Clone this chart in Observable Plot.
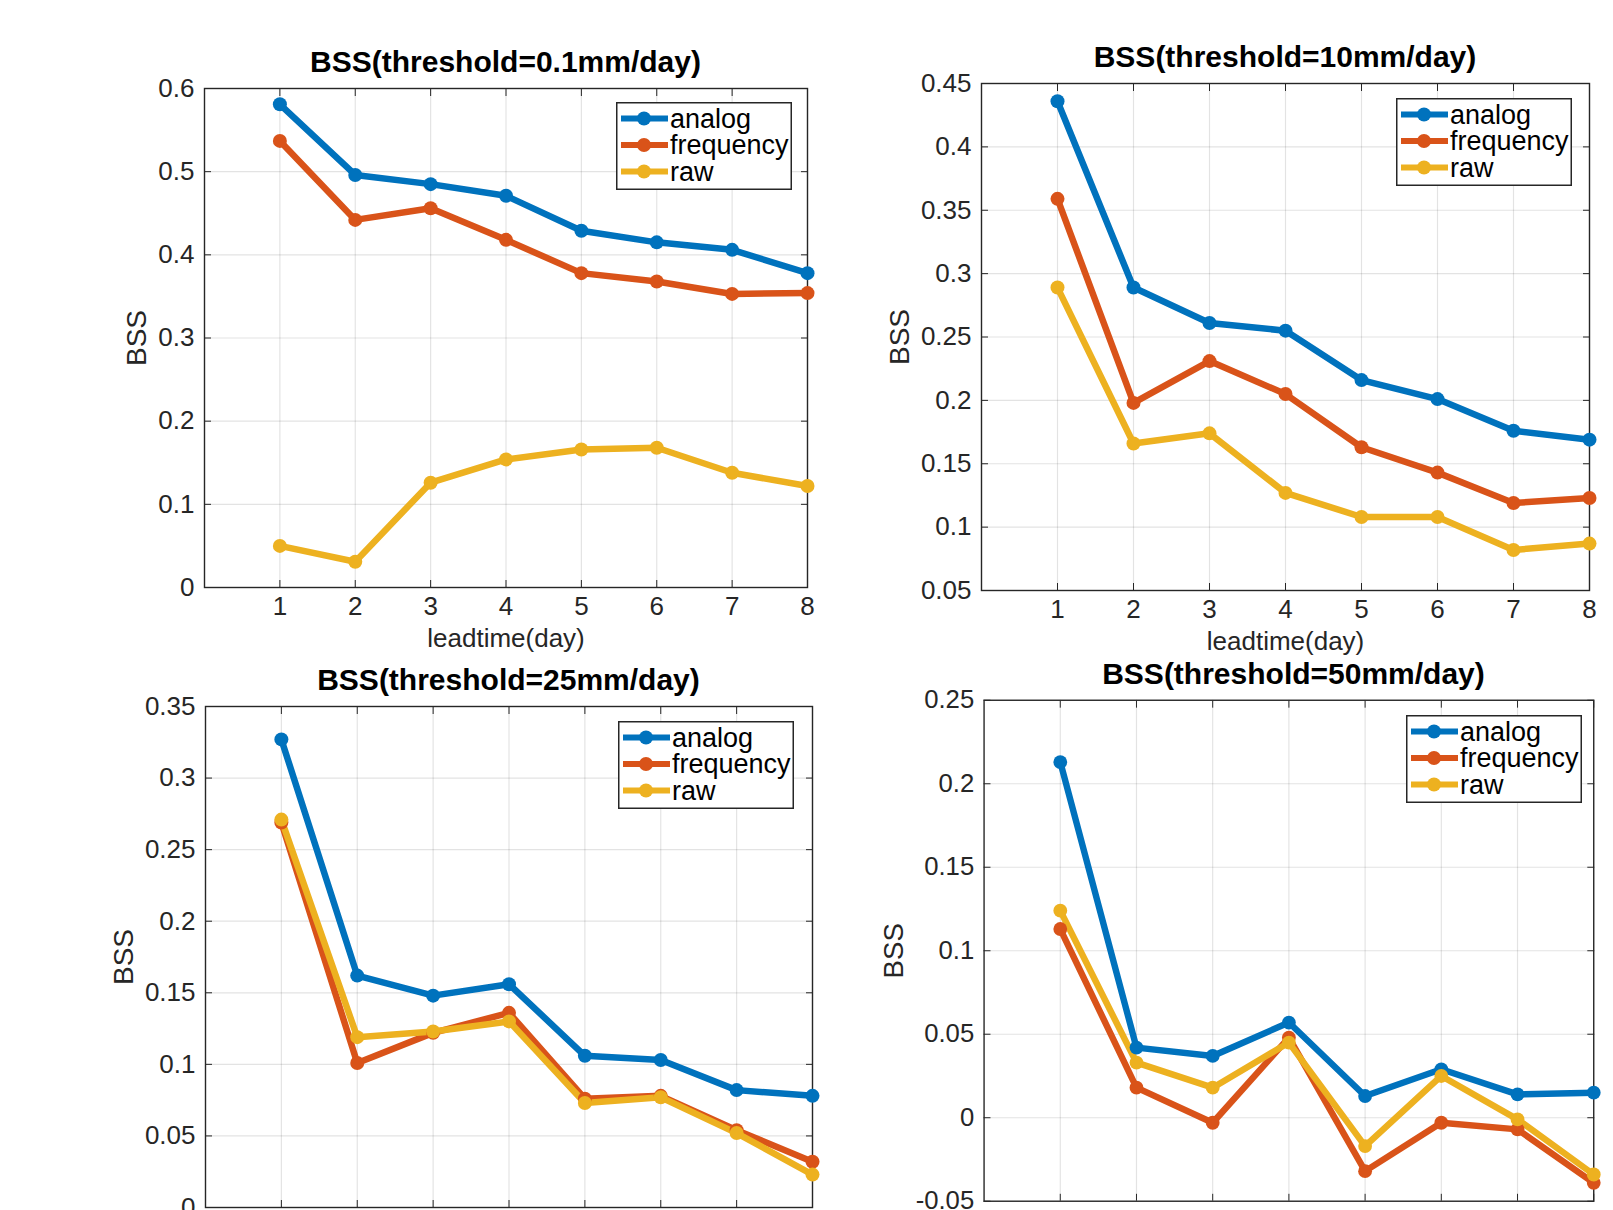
<!DOCTYPE html>
<html>
<head>
<meta charset="utf-8">
<script src="https://cdn.jsdelivr.net/npm/d3@7"></script>
<script src="https://cdn.jsdelivr.net/npm/@observablehq/plot@0.6"></script>
<style>
html, body { margin: 0; padding: 0; background: #fff; }
#page { position: relative; width: 1613px; height: 1210px; overflow: hidden; background: #fff;
  font-family: "Liberation Sans", Arial, Helvetica, sans-serif; }
.panel { position: absolute; }
.title { position: absolute; font-weight: bold; font-size: 30px; color: #000; white-space: nowrap;
  transform: translate(-50%, -50%); line-height: 1; }
.legend { position: absolute; }
</style>
</head>
<body>
<div id="page"></div>
<script>
// ---------------- data ----------------
const leadtime = [1, 2, 3, 4, 5, 6, 7, 8];
const seriesNames = ["analog", "frequency", "raw"];
const panelTitles = [
  "BSS(threshold=0.1mm/day)",
  "BSS(threshold=10mm/day)",
  "BSS(threshold=25mm/day)",
  "BSS(threshold=50mm/day)"
];

// threshold 0.1 mm/day
const analog_01    = [0.581, 0.496, 0.485, 0.471, 0.429, 0.415, 0.406, 0.378];
const frequency_01 = [0.537, 0.442, 0.456, 0.418, 0.378, 0.368, 0.353, 0.354];
const raw_01       = [0.050, 0.031, 0.126, 0.154, 0.166, 0.168, 0.138, 0.122];

// threshold 10 mm/day
const analog_10    = [0.436, 0.289, 0.261, 0.255, 0.216, 0.201, 0.176, 0.169];
const frequency_10 = [0.359, 0.198, 0.231, 0.205, 0.163, 0.143, 0.119, 0.123];
const raw_10       = [0.289, 0.166, 0.174, 0.127, 0.108, 0.108, 0.082, 0.087];

// threshold 25 mm/day
const analog_25    = [0.327, 0.162, 0.148, 0.156, 0.106, 0.103, 0.082, 0.078];
const frequency_25 = [0.269, 0.101, 0.122, 0.136, 0.076, 0.078, 0.054, 0.032];
const raw_25       = [0.271, 0.119, 0.123, 0.130, 0.073, 0.077, 0.052, 0.023];

// threshold 50 mm/day
const analog_50    = [0.213, 0.042, 0.037, 0.057, 0.013, 0.029, 0.014, 0.015];
const frequency_50 = [0.113, 0.018, -0.003, 0.048, -0.032, -0.003, -0.007, -0.039];
const raw_50       = [0.124, 0.033, 0.018, 0.045, -0.017, 0.025, -0.001, -0.034];

// tick labels
const xTicks = [1, 2, 3, 4, 5, 6, 7, 8];
const xDomain = [0, 8];
const yTicks_01 = [0, 0.1, 0.2, 0.3, 0.4, 0.5, 0.6];
const yTicks_10 = [0.05, 0.1, 0.15, 0.2, 0.25, 0.3, 0.35, 0.4, 0.45];
const yTicks_25 = [0, 0.05, 0.1, 0.15, 0.2, 0.25, 0.3, 0.35];
const yTicks_50 = [-0.05, 0, 0.05, 0.1, 0.15, 0.2, 0.25];

// ---------------- styles / layout ----------------
const seriesColors = ["#0072BD", "#D95319", "#EDB120"];
const FONT = '"Liberation Sans", Arial, Helvetica, sans-serif';

const panels = [
  { title: panelTitles[0], series: [analog_01, frequency_01, raw_01], yTicks: yTicks_01,
    frame: { L: 204, R: 807, T: 88, B: 587 }, legend: { x: 616, y: 101.5 }, yLabelOffset: 78, showX: true },
  { title: panelTitles[1], series: [analog_10, frequency_10, raw_10], yTicks: yTicks_10,
    frame: { L: 981, R: 1589, T: 83, B: 590 }, legend: { x: 1396, y: 97.5 }, yLabelOffset: 92, showX: true },
  { title: panelTitles[2], series: [analog_25, frequency_25, raw_25], yTicks: yTicks_25,
    frame: { L: 205, R: 812, T: 706, B: 1207 }, legend: { x: 618, y: 721 }, yLabelOffset: 92, showX: false },
  { title: panelTitles[3], series: [analog_50, frequency_50, raw_50], yTicks: yTicks_50,
    frame: { L: 985, R: 1602, T: 700, B: 1207 }, legend: { x: 1406, y: 715 }, yLabelOffset: 102, showX: false }
];

const fmt = d => {
  if (Math.abs(d) < 1e-12) return "0";
  return String(+d.toFixed(2)).replace("\u2212", "-");
};

const page = document.getElementById("page");
const mL = 120, mR = 20, mT = 20, mB = 90;

panels.forEach(p => {
  const f = p.frame;
  const rows = [];
  seriesNames.forEach((name, si) => {
    leadtime.forEach((t, i) => rows.push({ series: name, leadtime: t, bss: p.series[si][i] }));
  });
  const yDomain = [p.yTicks[0], p.yTicks[p.yTicks.length - 1]];

  const marks = [
    Plot.gridX(xTicks, { stroke: "#000", strokeOpacity: 0.11, strokeWidth: 1.2 }),
    Plot.gridY(p.yTicks, { stroke: "#000", strokeOpacity: 0.11, strokeWidth: 1.2 }),
    Plot.axisY(p.yTicks, { anchor: "left", tickSize: 0, tickPadding: 10, fontSize: 26, tickFormat: fmt,
      label: null }),
    Plot.axisX(xTicks, { anchor: "bottom", tickSize: -7, tickFormat: () => "", label: null, stroke: "#262626" }),
    Plot.axisX(xTicks, { anchor: "top", tickSize: -7, tickFormat: () => "", label: null, stroke: "#262626" }),
    Plot.axisY(p.yTicks, { anchor: "left", tickSize: -7, tickFormat: () => "", label: null, stroke: "#262626" }),
    Plot.axisY(p.yTicks, { anchor: "right", tickSize: -7, tickFormat: () => "", label: null, stroke: "#262626" }),
    Plot.axisY([], { anchor: "left", tickSize: 0, label: "BSS", labelAnchor: "center",
      labelOffset: p.yLabelOffset, labelArrow: "none", fontSize: 28 }),
    Plot.frame({ stroke: "#262626", strokeWidth: 1.4 }),
    Plot.line(rows, { x: "leadtime", y: "bss", z: "series", stroke: "series", strokeWidth: 6.5,
      strokeLinejoin: "round", strokeLinecap: "round" }),
    Plot.dot(rows, { x: "leadtime", y: "bss", fill: "series", r: 7 })
  ];
  if (p.showX) {
    marks.push(Plot.axisX(xTicks, { anchor: "bottom", tickSize: 0, tickPadding: 9, fontSize: 26,
      tickFormat: d => String(d), label: "leadtime(day)", labelAnchor: "center", labelOffset: 59,
      labelArrow: "none" }));
  } else {
    marks.push(Plot.axisX([], { anchor: "bottom", tickSize: 0, label: null }));
  }

  const chart = Plot.plot({
    width: f.R - f.L + mL + mR,
    height: f.B - f.T + mT + mB,
    marginLeft: mL, marginRight: mR, marginTop: mT, marginBottom: mB,
    style: { fontFamily: FONT, fontSize: "26px", color: "#262626", background: "transparent", overflow: "visible" },
    x: { domain: xDomain, ticks: xTicks },
    y: { domain: yDomain, ticks: p.yTicks },
    color: { domain: seriesNames, range: seriesColors },
    marks
  });
  const holder = document.createElement("div");
  holder.className = "panel";
  holder.style.left = (f.L - mL) + "px";
  holder.style.top = (f.T - mT) + "px";
  holder.appendChild(chart);
  page.appendChild(holder);

  // title
  const t = document.createElement("div");
  t.className = "title";
  t.textContent = p.title;
  t.style.left = ((f.L + f.R) / 2) + "px";
  t.style.top = (f.T - 26) + "px";
  page.appendChild(t);

  // legend
  const lw = 176, lh = 88;
  const lg = document.createElement("div");
  lg.className = "legend";
  lg.style.left = p.legend.x + "px";
  lg.style.top = p.legend.y + "px";
  const svg = d3.create("svg").attr("width", lw).attr("height", lh)
    .style("overflow", "visible").style("display", "block");
  svg.append("rect").attr("x", 0.75).attr("y", 0.75).attr("width", lw - 1.5).attr("height", lh - 1.5)
    .attr("fill", "#fff").attr("stroke", "#262626").attr("stroke-width", 1.5);
  seriesNames.forEach((name, i) => {
    const cy = 16.5 + i * 26.5;
    svg.append("line").attr("x1", 5).attr("x2", 52).attr("y1", cy).attr("y2", cy)
      .attr("stroke", seriesColors[i]).attr("stroke-width", 6);
    svg.append("circle").attr("cx", 28).attr("cy", cy).attr("r", 7).attr("fill", seriesColors[i]);
    svg.append("text").attr("x", 54).attr("y", cy).attr("dy", "0.35em")
      .attr("font-family", FONT).attr("font-size", 27).attr("fill", "#000").text(name);
  });
  lg.appendChild(svg.node());
  page.appendChild(lg);
});
</script>
</body>
</html>
